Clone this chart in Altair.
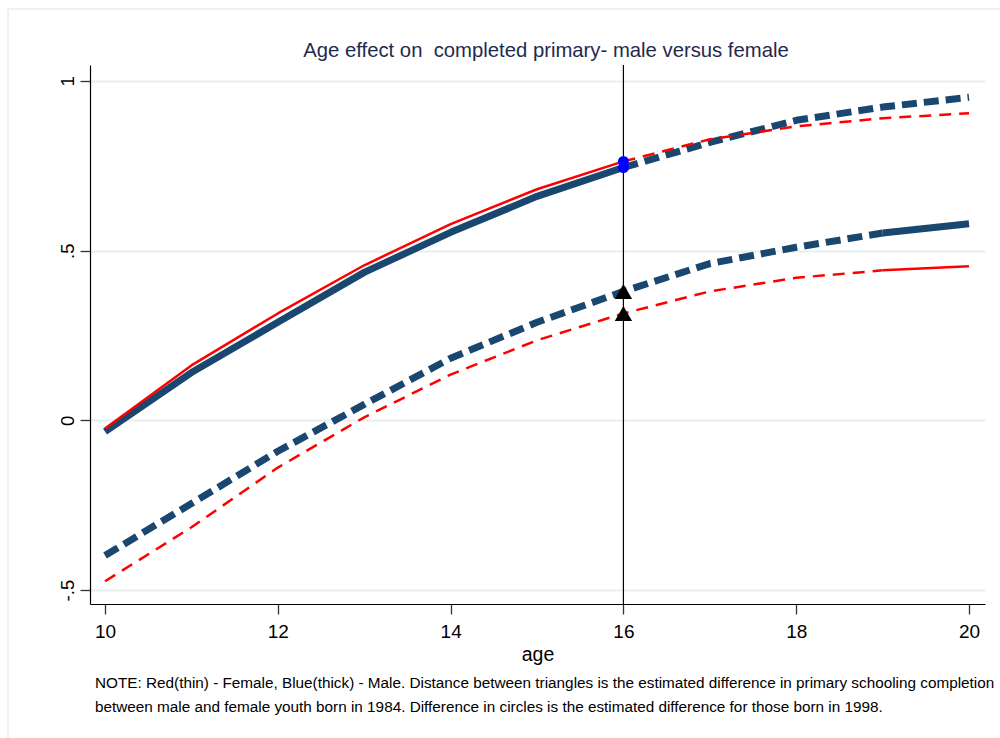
import altair as alt
import pandas as pd

# ---- data -----------------------------------------------------------------
ages = [10, 11, 12, 13, 14, 15, 16, 17, 18, 19, 20]

# cohort born 1998 (upper pair of curves)
female_1998 = [-0.024, 0.162, 0.315, 0.457, 0.578, 0.681, 0.763, 0.828, 0.866, 0.890, 0.905]
male_1998 = [-0.033, 0.141, 0.289, 0.436, 0.554, 0.660, 0.745, 0.819, 0.884, 0.923, 0.952]

# cohort born 1984 (lower pair of curves)
female_1984 = [-0.474, -0.315, -0.139, 0.009, 0.135, 0.236, 0.315, 0.380, 0.420, 0.442, 0.454]
male_1984 = [-0.398, -0.245, -0.091, 0.047, 0.183, 0.289, 0.380, 0.462, 0.510, 0.552, 0.579]

# ages drawn as solid lines for each cohort (the rest is dashed)
solid_range = {"1998": (10, 16), "1984": (19, 20)}

marker_age = 16

x_ticks = [10, 12, 14, 16, 18, 20]
y_ticks = [-0.5, 0, 0.5, 1]
y_tick_labels = ["-.5", "0", ".5", "1"]

# non-breaking space keeps the double gap after "on" in SVG text
title_text = "Age effect on \u00a0completed primary- male versus female"
note_lines = [
    "NOTE: Red(thin) - Female, Blue(thick) - Male. Distance between triangles is the estimated difference in primary schooling completion",
    "between male and female youth born in 1984. Difference in circles is the estimated difference for those born in 1998.",
]

FONT = "Liberation Sans"

# ---- long table of line segments -------------------------------------------
series = {
    ("1998", "Female"): female_1998,
    ("1998", "Male"): male_1998,
    ("1984", "Female"): female_1984,
    ("1984", "Male"): male_1984,
}
rows = []
for (cohort, sex), vals in series.items():
    lo, hi = solid_range[cohort]
    for a, v in zip(ages, vals):
        if lo <= a <= hi:
            rows.append(dict(age=a, value=v, sex=sex, style="solid",
                             line=f"{cohort}-{sex}-solid"))
        # dashed part covers everything outside the solid range,
        # sharing the end point where the two meet
        if a <= lo and min(ages) < lo:
            rows.append(dict(age=a, value=v, sex=sex, style="dashed",
                             line=f"{cohort}-{sex}-dashed-lo"))
        if a >= hi and max(ages) > hi:
            rows.append(dict(age=a, value=v, sex=sex, style="dashed",
                             line=f"{cohort}-{sex}-dashed-hi"))
lines = pd.DataFrame(rows)

i16 = ages.index(marker_age)
markers = pd.DataFrame({
    "age": [marker_age] * 4,
    "value": [female_1998[i16], male_1998[i16], female_1984[i16], male_1984[i16]],
    "kind": ["circle", "circle", "triangle", "triangle"],
})

# ---- scales / axes ---------------------------------------------------------
label_expr = " : ".join(
    f"datum.value == {v} ? '{l}'" for v, l in zip(y_ticks, y_tick_labels)
) + " : datum.label"

X = alt.X(
    "age:Q",
    scale=alt.Scale(domain=[9.826, 20.185], nice=False, zero=False),
    axis=alt.Axis(
        values=x_ticks, title="age", grid=False, domainColor="black",
        domainWidth=1.2, tickColor="#333333", tickWidth=1.3, tickSize=10,
        labelFontSize=19, labelPadding=8, labelColor="black",
        titleFontSize=19.5, titleFontWeight="normal", titleColor="black",
        titlePadding=4, labelFont=FONT, titleFont=FONT,
    ),
)
Y = alt.Y(
    "value:Q",
    scale=alt.Scale(domain=[-0.541, 1.047], nice=False, zero=False),
    axis=alt.Axis(
        values=y_ticks, title=None, grid=True, gridColor="#e8eff1",
        gridWidth=2, domainColor="black", domainWidth=1.2,
        tickColor="#333333", tickWidth=1.3, tickSize=10,
        labelExpr=label_expr, labelAngle=270, labelAlign="center",
        labelBaseline="bottom", labelPadding=3, labelFontSize=18.5,
        labelColor="black", labelFont=FONT,
    ),
)

NAVY = "#1a476f"
RED = "#ff0000"


def line_layer(sex, style, color, width, dash=None):
    kw = dict(color=color, strokeWidth=width, strokeCap="butt", strokeJoin="round")
    if dash:
        kw["strokeDash"] = dash
    return (
        alt.Chart(lines)
        .transform_filter((alt.datum.sex == sex) & (alt.datum.style == style))
        .mark_line(**kw)
        .encode(x=X, y=Y, detail="line:N", order="age:Q")
    )


one = pd.DataFrame({"k": [0]})

frame = alt.Chart(one).mark_rect(fillOpacity=0, stroke="#ececec", strokeWidth=1.5).encode(
    x=alt.value(-82), x2=alt.value(925), y=alt.value(-56), y2=alt.value(690)
)

vline = alt.Chart(pd.DataFrame({"age": [marker_age]})).mark_rule(
    color="black", strokeWidth=1.2
).encode(x=X)

circles = alt.Chart(markers).transform_filter(alt.datum.kind == "circle").mark_point(
    shape="circle", filled=True, color="#0000ff", size=120, opacity=1
).encode(x=X, y=Y)

triangles = alt.Chart(markers).transform_filter(alt.datum.kind == "triangle").mark_point(
    shape="triangle-up", filled=True, color="black", size=300, opacity=1
).encode(x=X, y=Y)

title = alt.Chart(one).mark_text(
    text=title_text, font=FONT, fontSize=20.3, color="#1e2b4f",
    align="center", baseline="middle",
).encode(x=alt.value(456), y=alt.value(-14))

notes = [
    alt.Chart(one).mark_text(
        text=t, font=FONT, fontSize=15.3, color="black",
        align="left", baseline="middle",
    ).encode(x=alt.value(5), y=alt.value(618 + 24 * i))
    for i, t in enumerate(note_lines)
]

chart = alt.layer(
    frame,
    vline,
    line_layer("Male", "solid", NAVY, 7),
    line_layer("Male", "dashed", NAVY, 7, [15, 7]),
    line_layer("Female", "solid", RED, 2.5),
    line_layer("Female", "dashed", RED, 2.5, [12, 8]),
    circles,
    triangles,
    title,
    *notes,
).properties(
    width=895,
    height=539,
    autosize=alt.AutoSizeParams(type="none"),
    padding={"left": 90, "top": 65, "right": 15, "bottom": 134},
    background="white",
).configure_view(stroke=None)

chart.save("out.html", embed_options={"renderer": "svg", "actions": False})
